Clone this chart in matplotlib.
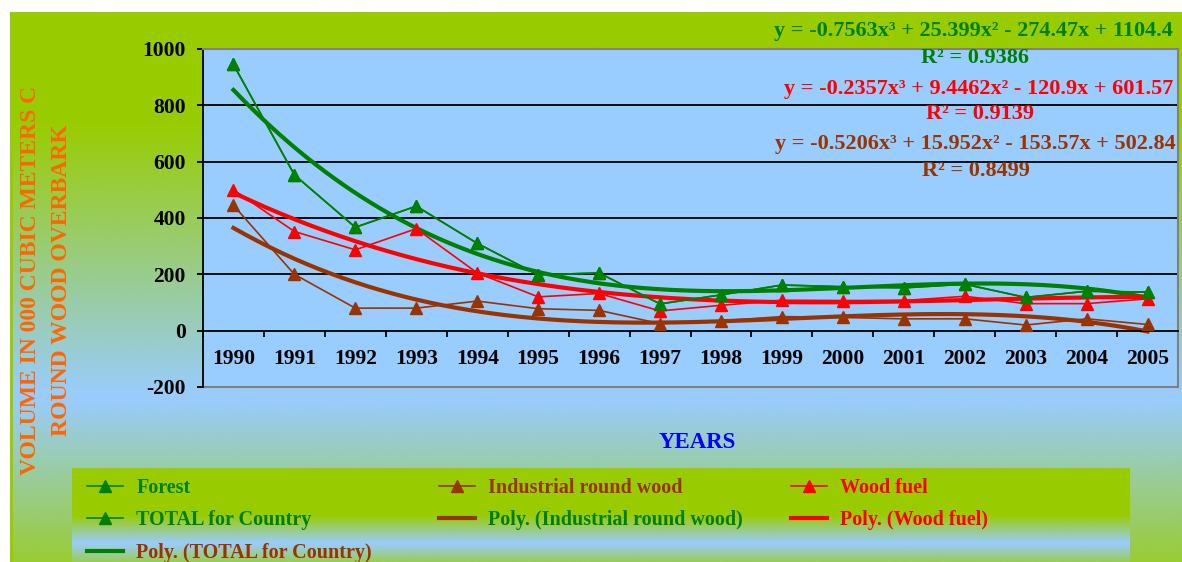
import numpy as np
import matplotlib
matplotlib.use('Agg')
import matplotlib.pyplot as plt
from matplotlib.lines import Line2D
from matplotlib.patches import Rectangle
from matplotlib.colors import to_rgb

plt.rcParams['axes.unicode_minus'] = False

# ---------------- data ----------------
years = [str(y) for y in range(1990, 2006)]
forest = [945, 553, 367, 442, 310, 198, 205, 95, 127, 162, 156, 152, 165, 118, 140, 137]
industrial = [445, 200, 80, 80, 105, 78, 72, 25, 35, 50, 47, 42, 42, 20, 42, 22]
wood_fuel = [500, 352, 287, 362, 205, 120, 132, 70, 90, 108, 107, 107, 122, 96, 96, 113]
total = [945, 553, 367, 442, 310, 198, 205, 95, 127, 162, 156, 152, 165, 118, 140, 137]

# cubic trendline coefficients as printed on the chart (x = 1..16)
coef_total = [-0.7563, 25.399, -274.47, 1104.4]
r2_total = "0.9386"
coef_wood = [-0.2357, 9.4462, -120.9, 601.57]
r2_wood = "0.9139"
coef_ind = [-0.5206, 15.952, -153.57, 502.84]
r2_ind = "0.8499"

# ---------------- style ----------------
GREEN = '#008000'
BROWN = '#993300'
RED = '#FF0000'
FONT = 'Liberation Serif'
W, H = 1182, 562

fig = plt.figure(figsize=(W / 100, H / 100), dpi=100, facecolor='white')


def fx(px):
    return px / W


def fy(py):
    return 1 - py / H


def vgrad(rect, stops, z):
    ax = fig.add_axes(rect, zorder=z)
    ax.set_axis_off()
    n = 300
    pos = np.linspace(0, 1, n)
    sp = [s[0] for s in stops]
    cols = np.array([to_rgb(s[1]) for s in stops])
    img = np.stack([np.interp(pos, sp, cols[:, k]) for k in range(3)], axis=-1)
    img = np.repeat(img[:, None, :], 2, axis=1)
    ax.imshow(img, extent=[0, 1, 0, 1], aspect='auto', origin='upper',
              transform=ax.transAxes)
    ax.set_xlim(0, 1)
    ax.set_ylim(0, 1)
    return ax


# outer panel gradient
vgrad([fx(10), 0, fx(W - 10), (H - 12) / H],
      [(0, '#99CC00'), (0.2, '#99CC00'), (0.7, '#99CCFF'), (1.0, '#99CC33')], -3)
fig.patches.append(Rectangle((fx(10), 0), fx(3), (H - 12) / H, transform=fig.transFigure,
                             facecolor='#99CC00', edgecolor='none', zorder=-2))
# legend box gradient
vgrad([fx(72), 0, fx(1130 - 72), (H - 468) / H],
      [(0, '#99CC00'), (0.5, '#99CC00'), (0.8, '#99CCFF'), (1.0, '#99CC55')], -1)

# ---------------- main axes ----------------
ax = fig.add_axes([fx(203), fy(387), fx(1178 - 203), (387 - 49) / H], zorder=1)
ax.set_facecolor('#99CCFF')
x = np.arange(1, len(years) + 1)
ax.set_xlim(0.5, len(years) + 0.5)
ax.set_ylim(-200, 1000)

ax.set_yticks(np.arange(-200, 1001, 200))
for v in range(200, 1000, 200):
    ax.axhline(v, color='black', lw=1.3, zorder=1)

xt = np.linspace(1, len(years), 300)
ax.plot(xt, np.polyval(coef_total, xt), color=GREEN, lw=3, zorder=2.5)
ax.plot(xt, np.polyval(coef_wood, xt), color=RED, lw=3, zorder=2.5)
ax.plot(xt, np.polyval(coef_ind, xt), color=BROWN, lw=3, zorder=2.5)

mk = dict(marker='^', markersize=9, lw=1.2, zorder=3)
ax.plot(x, forest, color=GREEN, **mk)
ax.plot(x, industrial, color=BROWN, **mk)
ax.plot(x, wood_fuel, color=RED, **mk)
ax.plot(x, total, color=GREEN, **mk)

# frame
for s in ['top', 'right']:
    ax.spines[s].set_color('#808080')
    ax.spines[s].set_linewidth(1.5)
ax.spines['left'].set_color('black')
ax.spines['left'].set_linewidth(1.3)
ax.spines['bottom'].set_position(('data', 0))
ax.spines['bottom'].set_color('black')
ax.spines['bottom'].set_linewidth(1.3)
ax.add_patch(Rectangle((0, 0), 1, 0, transform=ax.transAxes, fill=False,
                       edgecolor='#808080', lw=1.5, clip_on=False, zorder=0.5))

ax.set_xticks(np.arange(0.5, len(years) + 1, 1))
ax.set_xticklabels([])
ax.set_xticks(x, minor=True)
ax.set_xticklabels(years, minor=True)
ax.tick_params(axis='x', which='major', direction='out', length=4.5, width=1.3, color='black')
ax.tick_params(axis='x', which='minor', length=0, pad=13)
ax.tick_params(axis='y', direction='out', length=4.5, width=1.3, pad=8)
for lab in ax.get_xticklabels(minor=True) + ax.get_yticklabels():
    lab.set_fontfamily(FONT)
    lab.set_fontweight('bold')
    lab.set_fontsize(15.5)

# ---------------- texts ----------------


def eqtext(c):
    s = "y = %gx\u00b3" % c[0]
    s += (" + %gx\u00b2" % c[1]) if c[1] >= 0 else (" - %gx\u00b2" % -c[1])
    s += (" + %gx" % c[2]) if c[2] >= 0 else (" - %gx" % -c[2])
    s += (" + %g" % c[3]) if c[3] >= 0 else (" - %g" % -c[3])
    return s


tf = dict(fontfamily=FONT, fontweight='bold', fontsize=16, ha='center', va='center', zorder=10)
fig.text(fx(973), fy(31), eqtext(coef_total), color=GREEN, **tf)
fig.text(fx(975), fy(58), "R\u00b2 = " + r2_total, color=GREEN, **tf)
fig.text(fx(979), fy(89), eqtext(coef_wood), color=RED, **tf)
fig.text(fx(980), fy(114), "R\u00b2 = " + r2_wood, color=RED, **tf)
fig.text(fx(975), fy(144), eqtext(coef_ind), color=BROWN, **tf)
fig.text(fx(976), fy(171), "R\u00b2 = " + r2_ind, color=BROWN, **tf)

fig.text(fx(46), fy(280), "VOLUME IN 000 CUBIC METERS C\nROUND WOOD OVERBARK",
         rotation=90, ha='center', va='center', multialignment='center',
         fontfamily=FONT, fontweight='bold', fontsize=17, color='#FF6600', linespacing=1.6)
fig.text(fx(697), fy(442), "YEARS", ha='center', va='center', fontfamily=FONT,
         fontweight='bold', fontsize=16.5, color='#0000FF')

# ---------------- legend ----------------
h_forest = Line2D([], [], color=GREEN, marker='^', markersize=9, lw=1.2)
h_total = Line2D([], [], color=GREEN, marker='^', markersize=9, lw=1.2)
h_ptotal = Line2D([], [], color=GREEN, lw=3)
h_ind = Line2D([], [], color=BROWN, marker='^', markersize=9, lw=1.2)
h_pind = Line2D([], [], color=BROWN, lw=3)
h_wood = Line2D([], [], color=RED, marker='^', markersize=9, lw=1.2)
h_pwood = Line2D([], [], color=RED, lw=3)

columns = [
    (87, [h_forest, h_total, h_ptotal], ['Forest', 'TOTAL for Country', 'Poly. (TOTAL for Country)'],
     [GREEN, GREEN, BROWN]),
    (439, [h_ind, h_pind], ['Industrial round wood', 'Poly. (Industrial round wood)'], [BROWN, GREEN]),
    (791, [h_wood, h_pwood], ['Wood fuel', 'Poly. (Wood fuel)'], [RED, RED]),
]
for xpx, hs, labs, cols in columns:
    fig.legend(hs, labs, loc='upper left', bbox_to_anchor=(fx(xpx), fy(478)),
               frameon=False, borderpad=0, borderaxespad=0, handlelength=1.8,
               handletextpad=0.65, labelspacing=0.62, labelcolor=cols,
               prop=dict(family=FONT, weight='bold', size=14.5))

fig.savefig('out.png', dpi=100)
